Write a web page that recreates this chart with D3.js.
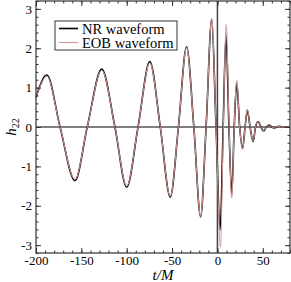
<!DOCTYPE html>
<html>
<head>
<meta charset="utf-8">
<script src="https://cdn.jsdelivr.net/npm/d3@7"></script>
<style>
  body { margin: 0; background: #fff; }
  text { font-family: "Liberation Serif", "Times New Roman", serif; }
</style>
</head>
<body>
<div id="chart"></div>
<script>
// NR waveform: extrema and zero crossings
const nrT = [-200, -188, -173.5, -157, -143.5, -127.5, -113, -100, -87.5, -74.5, -63, -52, -43, -34, -26, -18.5, -12.5, -6.3, -1.5, 3, 6.3, 9.5, 12.7, 15.8, 18.5, 21.3, 24.5, 27.7, 30.5, 33, 36, 39.3, 42, 45, 48, 51, 54, 57, 60, 62.5, 65, 68, 71, 80];
const nrH = [0.75, 1.32, 0, -1.36, 0, 1.47, 0, -1.53, 0, 1.66, 0, -1.78, 0, 2.04, 0, -2.28, 0, 2.72, 0, -2.62, 0, 2.35, 0, -1.72, 0, 1.12, 0, -0.55, 0, 0.43, 0, -0.37, 0, 0.14, 0, -0.1, 0, 0.05, 0, -0.03, 0, 0.02, 0, 0];
// EOB waveform
const eobT = [-200, -188, -173.5, -157, -143.5, -127.5, -113, -100, -87.5, -74.5, -63, -52, -43, -34, -26, -18.5, -12.5, -6.3, -1.5, 3.3, 6.5, 9.7, 12.8, 15.8, 18.5, 21.3, 24.5, 27.7, 30.5, 33, 36, 39.3, 42, 45, 48, 51, 54, 57, 60, 62.5, 65, 68, 71, 80];
const eobH = [0.73, 1.29, 0, -1.33, 0, 1.44, 0, -1.5, 0, 1.63, 0, -1.76, 0, 2.02, 0, -2.27, 0, 2.76, 0, -3.05, 0, 2.6, 0, -1.8, 0, 1.18, 0, -0.55, 0, 0.43, 0, -0.36, 0, 0.14, 0, -0.1, 0, 0.05, 0, -0.03, 0, 0.02, 0, 0];

const xTicks = [-200, -150, -100, -50, 0, 50];
const yTicks = [-3, -2, -1, 0, 1, 2, 3];
const legendLabels = ["NR waveform", "EOB waveform"];

const width = 291, height = 282;
const margin = {left: 36, right: 1, top: 1, bottom: 29};
const svg = d3.select('#chart')
  .append('svg')
    .attr('width', width)
    .attr('height', height);

const x = d3.scaleLinear().domain([-200, 80]).range([margin.left, width - margin.right]);
const y = d3.scaleLinear().domain([-3.2, 3.2]).range([height - margin.bottom, margin.top]);

const axisColor = '#333';
const x0 = margin.left, x1 = width - margin.right;
const y0 = height - margin.bottom, y1 = margin.top;

// zero lines
svg.append('line')
  .attr('x1', x0).attr('x2', x1)
  .attr('y1', y(0)).attr('y2', y(0))
  .attr('stroke', '#000').attr('stroke-width', 1.2);
svg.append('line')
  .attr('x1', x(0)).attr('x2', x(0))
  .attr('y1', y0).attr('y2', y1)
  .attr('stroke', '#444').attr('stroke-width', 1.5);

const line = d3.line()
  .x(d => x(d[0]))
  .y(d => y(d[1]))
  .curve(d3.curveMonotoneX);

svg.append('path')
  .datum(nrT.map((t, i) => [t, nrH[i]]))
  .attr('d', line)
  .attr('fill', 'none')
  .attr('stroke', '#000')
  .attr('stroke-width', 1.6);
svg.append('path')
  .datum(eobT.map((t, i) => [t, eobH[i]]))
  .attr('d', line)
  .attr('fill', 'none')
  .attr('stroke', '#d99a9a')
  .attr('stroke-width', 1);

/* axes: ticks point inward on all four sides */
const minorX = d3.range(-200, 81, 10);
const minorY = d3.range(-3.2, 3.21, 0.2);
const fmt = d => String(d);

function styleAxis(g) {
  g.attr('font-family', '"Liberation Serif", serif').attr('font-size', 13);
  g.select('.domain').remove();
  g.selectAll('line').attr('stroke', axisColor);
  g.selectAll('text').attr('fill', '#000');
}

svg.append('g').attr('transform', `translate(0,${y0})`)
  .call(d3.axisBottom(x).tickValues(xTicks).tickFormat(fmt).tickSizeInner(-5).tickSizeOuter(0).tickPadding(3))
  .call(styleAxis);
svg.append('g').attr('transform', `translate(0,${y0})`)
  .call(d3.axisBottom(x).tickValues(minorX).tickFormat('').tickSizeInner(-2.5).tickSizeOuter(0))
  .call(styleAxis);
svg.append('g').attr('transform', `translate(0,${y1})`)
  .call(d3.axisTop(x).tickValues(xTicks).tickFormat('').tickSizeInner(-5).tickSizeOuter(0))
  .call(styleAxis);
svg.append('g').attr('transform', `translate(0,${y1})`)
  .call(d3.axisTop(x).tickValues(minorX).tickFormat('').tickSizeInner(-2.5).tickSizeOuter(0))
  .call(styleAxis);

svg.append('g').attr('transform', `translate(${x0},0)`)
  .call(d3.axisLeft(y).tickValues(yTicks).tickFormat(fmt).tickSizeInner(-5).tickSizeOuter(0).tickPadding(4))
  .call(styleAxis);
svg.append('g').attr('transform', `translate(${x0},0)`)
  .call(d3.axisLeft(y).tickValues(minorY).tickFormat('').tickSizeInner(-2.5).tickSizeOuter(0))
  .call(styleAxis);
svg.append('g').attr('transform', `translate(${x1},0)`)
  .call(d3.axisRight(y).tickValues(yTicks).tickFormat('').tickSizeInner(-5).tickSizeOuter(0))
  .call(styleAxis);
svg.append('g').attr('transform', `translate(${x1},0)`)
  .call(d3.axisRight(y).tickValues(minorY).tickFormat('').tickSizeInner(-2.5).tickSizeOuter(0))
  .call(styleAxis);

svg.append('rect')
  .attr('x', x0).attr('y', y1)
  .attr('width', x1 - x0).attr('height', y0 - y1)
  .attr('fill', 'none')
  .attr('stroke', axisColor)
  .attr('stroke-width', 1.2);

// axis titles
svg.append('text')
  .attr('x', (x0 + x1) / 2)
  .attr('y', 280)
  .attr('text-anchor', 'middle')
  .style('font-size', '15px')
  .style('font-style', 'italic')
  .text('t/M');

const yl = svg.append('text')
  .attr('transform', `translate(16,${y(0)}) rotate(-90)`)
  .attr('text-anchor', 'middle')
  .style('font-size', '15px');
yl.append('tspan').style('font-style', 'italic').text('h');
yl.append('tspan').attr('dy', 3).style('font-size', '10px').text('22');

// legend
const legend = svg.append('g');
legend.append('rect')
  .attr('x', 55).attr('y', 21)
  .attr('width', 122).attr('height', 29)
  .attr('fill', '#fff')
  .attr('stroke', axisColor)
  .attr('stroke-width', 1);
const legendColors = ['#000', '#d99a9a'];
legendLabels.forEach((label, i) => {
  const ly = 28.5 + i * 14;
  legend.append('line')
    .attr('x1', 59).attr('x2', 78)
    .attr('y1', ly).attr('y2', ly)
    .attr('stroke', legendColors[i])
    .attr('stroke-width', i === 0 ? 1.6 : 1.2);
  legend.append('text')
    .attr('x', 82).attr('y', ly + 5)
    .style('font-size', '14.5px')
    .text(label);
});
</script>
</body>
</html>
